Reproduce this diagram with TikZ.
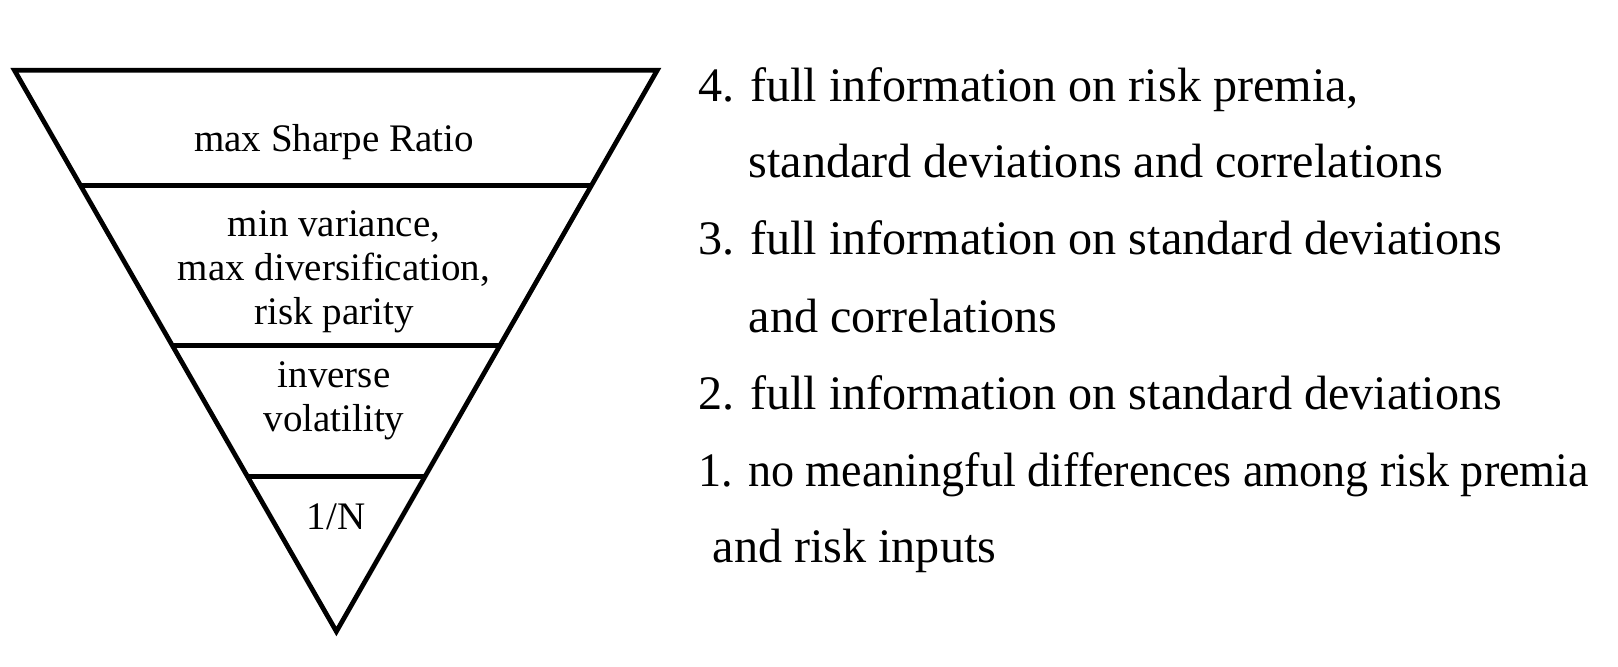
\documentclass[tikz,border=0pt]{standalone}
\usepackage{fontspec}
\usepackage{graphicx}
\setmainfont{Liberation Serif}
\usetikzlibrary{calc}
\tikzset{
  tri/.style={line width=1.35pt},
  lab/.style={font=\fontsize{11.1}{12.5}\selectfont, inner sep=0pt, align=center},
  item/.style={font=\fontsize{13.7}{16}\selectfont, inner sep=0pt, anchor=base west}
}
\begin{document}
\begin{tikzpicture}
          \useasboundingbox (0,0) rectangle (16.18,6.67);
          \coordinate (tl) at (0.144,5.968);
          \coordinate (tr) at (6.573,5.968);
          \coordinate (bt) at (3.364,0.355);

          % funnel
          \draw [tri] (tl) -- (tr) -- (bt) -- cycle;
          \draw [tri] ($(tl)!0.2058!(bt)$) -- ($(tr)!0.2058!(bt)$);
          \draw [tri] ($(tl)!0.4908!(bt)$) -- ($(tr)!0.4908!(bt)$);
          \draw [tri] ($(tl)!0.7244!(bt)$) -- ($(tr)!0.7244!(bt)$);

          \node [lab, anchor=base] (sharpe) at (3.34,5.15) {max Sharpe Ratio};
          \node [lab] (minvar) at (3.34,3.95) {min variance,\\max diversification,\\risk parity};
          \node [lab] (invvol) at (3.34,2.66) {inverse\\volatility};
          \node [lab, anchor=base] (equal) at (3.36,1.37) {1/N};

          % levels of information
          \node [item] (l4) at (6.976,5.653) {4. full information on risk premia,};
          \node [item] (l4b) at (7.48,4.89) {standard deviations and correlations};
          \node [item] (l3) at (6.976,4.12) {3. full information on standard deviations};
          \node [item] (l3b) at (7.48,3.34) {and correlations};
          \node [item] (l2) at (6.976,2.57) {2. full information on standard deviations};
          \node [item] (l1) at (6.976,1.803) {\scalebox{0.958}[1]{1. no meaningful differences among risk premia}};
          \node [item] (l1b) at (7.12,1.04) {and risk inputs};
\end{tikzpicture}
\end{document}
